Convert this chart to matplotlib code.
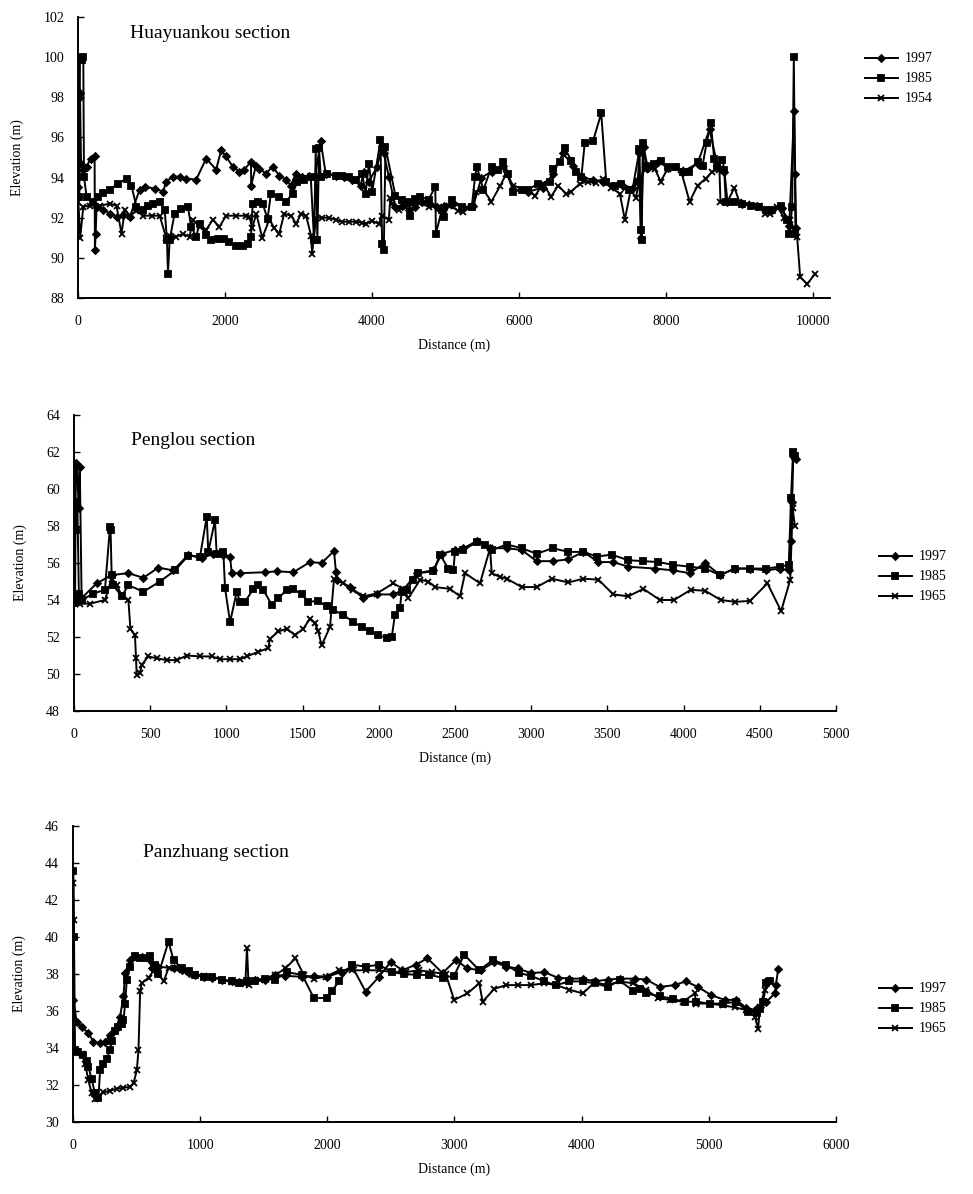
import matplotlib
matplotlib.use("Agg")
import matplotlib.pyplot as plt

plt.rcParams['font.family'] = ['Liberation Serif', 'DejaVu Serif']

# ---- Huayuankou section: (distance m, elevation m)
hy_1997 = [(5, 93.55), (14, 97.95), (27, 98.2), (41, 94.7), (72, 94.4), (117, 94.55), (172, 94.95), (226, 95.05),
           (230, 90.4), (240, 91.2), (253, 92.55), (343, 92.4), (434, 92.2), (524, 92.05), (614, 92.15), (705, 92.05),
           (840, 93.4), (908, 93.55), (1043, 93.45), (1156, 93.3), (1201, 93.8), (1292, 94.05), (1382, 94.05),
           (1473, 93.95), (1608, 93.9), (1744, 94.95), (1879, 94.4), (1947, 95.35), (2015, 95.05), (2105, 94.55),
           (2195, 94.3), (2263, 94.4), (2353, 94.8), (2356, 93.6), (2421, 94.6), (2466, 94.45), (2556, 94.2),
           (2647, 94.55), (2737, 94.1), (2828, 93.9), (2895, 93.6), (2963, 94.2), (3053, 94.05), (3144, 94.1),
           (3225, 94.05), (3302, 95.8), (3370, 94.2), (3505, 94.1), (3618, 94.05), (3731, 93.9), (3844, 93.6),
           (3889, 94.3), (3957, 93.8), (4069, 94.55), (4137, 95.55), (4160, 95.2), (4228, 94.05), (4318, 92.55),
           (4408, 92.6), (4499, 92.4), (4589, 92.55), (4679, 92.8), (4792, 92.7), (4882, 92.55), (4973, 92.6),
           (5108, 92.7), (5244, 92.5), (5379, 92.6), (5488, 94.0), (5628, 94.3), (5786, 94.6), (5921, 93.4),
           (6125, 93.3), (6328, 93.5), (6463, 94.2), (6599, 95.2), (6734, 94.6), (6870, 94.0), (7005, 93.9),
           (7141, 93.8), (7277, 93.6), (7412, 93.6), (7548, 93.5), (7629, 95.2), (7656, 91.0), (7696, 95.5),
           (7750, 94.5), (7886, 94.8), (8022, 94.5), (8225, 94.3), (8428, 94.7), (8591, 96.4), (8699, 94.6),
           (8794, 94.3), (8835, 92.8), (9038, 92.7), (9241, 92.6), (9444, 92.4), (9580, 92.5), (9675, 91.6),
           (9743, 97.3), (9756, 94.2), (9770, 91.5)]
hy_1985 = [(18, 93.05), (27, 99.95), (50, 99.85), (72, 100.0), (81, 94.05), (117, 93.05), (208, 92.8), (275, 93.05),
           (343, 93.25), (434, 93.4), (546, 93.7), (660, 93.95), (727, 93.6), (795, 92.55), (885, 92.4), (953, 92.6),
           (1021, 92.7), (1111, 92.8), (1179, 92.4), (1210, 90.9), (1224, 89.2), (1247, 90.9), (1314, 92.2),
           (1405, 92.45), (1495, 92.55), (1540, 91.55), (1608, 91.05), (1653, 91.7), (1744, 91.15), (1811, 90.9),
           (1901, 90.95), (1992, 90.95), (2060, 90.8), (2150, 90.6), (2240, 90.6), (2308, 90.7), (2353, 91.05),
           (2376, 92.7), (2443, 92.8), (2511, 92.7), (2579, 91.95), (2624, 93.2), (2737, 93.05), (2828, 92.8),
           (2918, 93.2), (2986, 93.8), (3076, 93.9), (3166, 94.05), (3211, 90.9), (3234, 95.4), (3256, 90.9),
           (3279, 95.45), (3302, 94.05), (3392, 94.2), (3505, 94.1), (3595, 94.1), (3686, 94.05), (3776, 93.9),
           (3866, 94.2), (3912, 93.2), (3957, 94.7), (4002, 93.3), (4115, 95.85), (4137, 90.7), (4160, 90.4),
           (4183, 95.5), (4318, 93.1), (4408, 92.9), (4499, 92.8), (4521, 92.1), (4589, 92.95), (4657, 93.05),
           (4770, 92.9), (4860, 93.55), (4869, 91.2), (4950, 92.4), (4973, 92.05), (5086, 92.9), (5221, 92.55),
           (5357, 92.55), (5402, 94.05), (5425, 94.55), (5515, 93.4), (5628, 94.55), (5718, 94.4), (5786, 94.8),
           (5854, 94.2), (5921, 93.3), (6034, 93.4), (6125, 93.4), (6260, 93.7), (6418, 93.8), (6463, 94.45),
           (6554, 94.8), (6622, 95.45), (6712, 94.85), (6780, 94.3), (6848, 94.05), (6893, 95.7), (7005, 95.8),
           (7118, 97.2), (7186, 93.8), (7299, 93.6), (7389, 93.7), (7502, 93.4), (7615, 93.8), (7638, 95.4),
           (7660, 91.4), (7669, 90.9), (7683, 95.7), (7728, 94.6), (7841, 94.7), (7931, 94.85), (8022, 94.55),
           (8134, 94.55), (8225, 94.3), (8315, 94.3), (8428, 94.8), (8496, 94.6), (8550, 95.7), (8609, 96.7),
           (8654, 94.95), (8699, 94.55), (8767, 94.9), (8790, 94.4), (8812, 92.8), (8925, 92.8), (9038, 92.7),
           (9150, 92.6), (9264, 92.55), (9354, 92.4), (9444, 92.4), (9557, 92.6), (9648, 91.9), (9679, 91.2),
           (9715, 92.55), (9738, 100.0), (9760, 91.2)]
hy_1954 = [(5, 92.8), (30, 91.0), (72, 92.55), (163, 92.6), (298, 92.6), (434, 92.7), (524, 92.6), (592, 91.2),
           (637, 92.4), (705, 92.1), (795, 92.35), (885, 92.1), (1000, 92.1), (1111, 92.1), (1200, 91.0),
           (1247, 91.1), (1337, 91.05), (1427, 91.2), (1518, 91.05), (1563, 91.9), (1653, 91.55), (1744, 91.4),
           (1834, 91.9), (1924, 91.55), (2015, 92.1), (2150, 92.1), (2290, 92.1), (2331, 92.05), (2371, 91.5),
           (2425, 92.2), (2507, 91.0), (2602, 91.9), (2669, 91.5), (2737, 91.2), (2805, 92.2), (2900, 92.1),
           (2967, 91.7), (3035, 92.2), (3103, 92.1), (3171, 91.1), (3184, 90.2), (3238, 92.0), (3320, 92.0),
           (3415, 92.0), (3509, 91.9), (3591, 91.8), (3686, 91.8), (3780, 91.8), (3862, 91.75), (3916, 91.7),
           (3997, 91.85), (4092, 91.7), (4133, 92.1), (4228, 91.9), (4250, 93.0), (4268, 92.7), (4363, 92.4),
           (4458, 92.55), (4539, 92.7), (4634, 92.75), (4770, 92.55), (4905, 92.55), (5041, 92.6), (5176, 92.35),
           (5244, 92.3), (5352, 92.55), (5420, 93.3), (5515, 93.4), (5623, 92.8), (5745, 93.6), (5827, 94.2),
           (5921, 93.6), (6084, 93.4), (6219, 93.1), (6328, 93.7), (6436, 93.05), (6531, 93.6), (6640, 93.2),
           (6707, 93.3), (6829, 93.7), (6938, 93.8), (7046, 93.75), (7141, 93.95), (7250, 93.5), (7371, 93.2),
           (7439, 91.9), (7520, 93.4), (7588, 93.0), (7642, 93.9), (7710, 94.4), (7778, 94.55), (7845, 94.45),
           (7927, 93.8), (8022, 94.45), (8116, 94.55), (8198, 94.4), (8320, 92.8), (8428, 93.6), (8537, 93.95),
           (8631, 94.3), (8726, 94.4), (8740, 92.8), (8835, 92.8), (8930, 93.5), (8997, 92.8), (9106, 92.7),
           (9268, 92.6), (9350, 92.2), (9417, 92.2), (9512, 92.55), (9607, 92.0), (9689, 91.9), (9743, 91.4),
           (9783, 91.05), (9824, 89.05), (9919, 88.7), (10027, 89.2)]

# ---- Penglou section
pl_1997 = [(7, 53.9), (12, 61.4), (20, 61.3), (30, 59.0), (38, 61.2), (50, 54.1), (149, 54.9), (247, 55.35),
           (357, 55.45), (455, 55.2), (553, 55.75), (652, 55.6), (750, 56.45), (838, 56.25), (914, 56.5),
           (980, 56.45), (1024, 56.35), (1035, 55.45), (1089, 55.45), (1253, 55.5), (1330, 55.55), (1439, 55.5),
           (1549, 56.05), (1625, 56.0), (1706, 56.65), (1719, 55.5), (1724, 55.1), (1811, 54.7), (1899, 54.1),
           (1986, 54.3), (2095, 54.3), (2161, 54.55), (2249, 55.45), (2358, 55.6), (2413, 56.5), (2500, 56.7),
           (2555, 56.8), (2647, 57.2), (2730, 56.8), (2840, 56.8), (2938, 56.7), (3036, 56.1), (3145, 56.1),
           (3244, 56.2), (3342, 56.6), (3441, 56.05), (3539, 56.05), (3637, 55.8), (3812, 55.7), (3933, 55.6),
           (4042, 55.45), (4141, 56.0), (4239, 55.35), (4338, 55.7), (4436, 55.7), (4540, 55.6), (4630, 55.7),
           (4690, 55.6), (4705, 57.2), (4712, 59.3), (4720, 61.8), (4735, 61.6)]
pl_1985 = [(5, 54.0), (8, 59.2), (14, 57.8), (22, 59.3), (32, 54.3), (50, 54.0), (127, 54.35), (203, 54.55),
           (236, 57.95), (240, 57.8), (247, 55.35), (258, 54.8), (313, 54.2), (357, 54.8), (455, 54.45),
           (564, 55.0), (663, 55.6), (750, 56.4), (827, 56.35), (871, 58.5), (881, 56.6), (925, 58.3), (936, 56.5),
           (980, 56.6), (991, 54.65), (1024, 52.8), (1068, 54.45), (1089, 53.9), (1122, 53.9), (1177, 54.6),
           (1210, 54.8), (1242, 54.55), (1297, 53.75), (1341, 54.1), (1396, 54.55), (1439, 54.6), (1494, 54.3),
           (1538, 53.9), (1603, 53.95), (1658, 53.65), (1702, 53.45), (1767, 53.2), (1833, 52.8), (1888, 52.55),
           (1942, 52.3), (1997, 52.1), (2052, 51.95), (2085, 52.0), (2106, 53.2), (2139, 53.55), (2150, 54.45),
           (2183, 54.55), (2227, 55.1), (2260, 55.45), (2358, 55.55), (2402, 56.45), (2456, 55.7), (2489, 55.6),
           (2500, 56.6), (2555, 56.7), (2647, 57.15), (2697, 57.0), (2741, 56.7), (2840, 57.0), (2938, 56.8),
           (3036, 56.5), (3141, 56.8), (3244, 56.6), (3342, 56.6), (3430, 56.35), (3528, 56.45), (3637, 56.15),
           (3736, 56.1), (3834, 56.05), (3933, 55.9), (4042, 55.8), (4141, 55.7), (4239, 55.35), (4338, 55.7),
           (4436, 55.7), (4540, 55.7), (4630, 55.8), (4690, 55.9), (4705, 59.5), (4718, 62.0), (4732, 61.8)]
pl_1965 = [(7, 53.8), (39, 53.8), (105, 53.8), (203, 54.0), (247, 55.15), (280, 54.8), (313, 54.25), (357, 54.0),
           (370, 52.45), (400, 52.1), (407, 50.85), (411, 49.95), (433, 50.05), (444, 50.5), (488, 50.95),
           (542, 50.85), (608, 50.75), (674, 50.75), (740, 51.0), (827, 50.95), (904, 50.95), (958, 50.8),
           (1024, 50.8), (1089, 50.8), (1133, 50.95), (1210, 51.2), (1275, 51.4), (1286, 51.9), (1341, 52.3),
           (1396, 52.45), (1450, 52.1), (1505, 52.45), (1549, 53.0), (1581, 52.75), (1603, 52.3), (1625, 51.55),
           (1680, 52.55), (1706, 55.15), (1767, 54.9), (1833, 54.55), (1899, 54.2), (1986, 54.35), (2095, 54.9),
           (2161, 54.6), (2194, 54.1), (2271, 55.1), (2325, 55.0), (2369, 54.7), (2467, 54.6), (2533, 54.2),
           (2566, 55.45), (2664, 54.9), (2730, 56.8), (2741, 55.45), (2795, 55.25), (2840, 55.15), (2938, 54.7),
           (3036, 54.7), (3135, 55.15), (3244, 54.95), (3342, 55.15), (3441, 55.1), (3539, 54.3), (3637, 54.2),
           (3736, 54.6), (3845, 54.0), (3937, 54.0), (4047, 54.55), (4141, 54.5), (4244, 54.0), (4338, 53.9),
           (4436, 53.95), (4550, 54.9), (4640, 53.4), (4700, 55.1), (4715, 59.0), (4730, 58.0)]

# ---- Panzhuang section
pz_1997 = [(3, 36.6), (29, 35.4), (68, 35.15), (121, 34.8), (160, 34.35), (213, 34.25), (252, 34.35), (292, 34.7),
           (331, 34.95), (370, 35.7), (397, 36.8), (410, 38.05), (449, 38.75), (489, 39.0), (541, 38.9),
           (594, 38.8), (620, 38.35), (646, 38.2), (672, 38.4), (791, 38.3), (856, 38.2), (909, 38.05),
           (961, 37.95), (1027, 37.85), (1093, 37.8), (1172, 37.7), (1250, 37.6), (1303, 37.55), (1369, 37.6),
           (1434, 37.65), (1513, 37.7), (1592, 37.95), (1670, 37.9), (1802, 37.85), (1894, 37.9), (2000, 37.85),
           (2104, 38.1), (2196, 38.4), (2301, 37.05), (2406, 37.85), (2498, 38.65), (2590, 38.2), (2695, 38.5),
           (2787, 38.85), (2906, 38.05), (3011, 38.75), (3102, 38.3), (3208, 38.2), (3313, 38.65), (3405, 38.4),
           (3497, 38.3), (3602, 38.05), (3707, 38.1), (3812, 37.8), (3904, 37.75), (4009, 37.75), (4101, 37.6),
           (4206, 37.7), (4298, 37.75), (4416, 37.75), (4508, 37.7), (4613, 37.3), (4731, 37.4), (4818, 37.6),
           (4915, 37.3), (5020, 36.85), (5125, 36.6), (5217, 36.6), (5296, 36.15), (5361, 36.05), (5401, 36.2),
           (5453, 36.5), (5519, 36.95), (5527, 37.4), (5545, 38.25)]
pz_1985 = [(3, 43.55), (8, 40.0), (16, 33.9), (42, 33.8), (81, 33.6), (108, 33.3), (121, 33.0), (147, 32.3),
           (173, 31.55), (200, 31.3), (213, 32.8), (239, 33.15), (265, 33.4), (292, 33.9), (305, 34.4), (331, 34.9),
           (357, 35.15), (384, 35.3), (397, 35.5), (410, 36.4), (423, 37.7), (449, 38.4), (489, 38.95), (528, 38.85),
           (567, 38.85), (607, 38.95), (646, 38.5), (672, 38.0), (751, 39.75), (791, 38.75), (856, 38.3),
           (909, 38.15), (961, 37.95), (1027, 37.85), (1093, 37.85), (1172, 37.7), (1250, 37.6), (1303, 37.5),
           (1369, 37.6), (1434, 37.6), (1513, 37.75), (1591, 37.7), (1683, 38.1), (1802, 37.95), (1894, 36.7),
           (2000, 36.7), (2038, 37.1), (2091, 37.6), (2196, 38.5), (2301, 38.4), (2406, 38.5), (2511, 38.1),
           (2603, 38.0), (2708, 37.95), (2800, 37.95), (2906, 37.8), (2997, 37.9), (3076, 39.05), (3195, 38.2),
           (3300, 38.75), (3405, 38.5), (3510, 38.05), (3602, 37.9), (3707, 37.6), (3799, 37.4), (3904, 37.6),
           (4009, 37.6), (4101, 37.5), (4206, 37.3), (4298, 37.65), (4403, 37.1), (4456, 37.2), (4508, 36.95),
           (4613, 36.8), (4718, 36.65), (4810, 36.5), (4902, 36.5), (5007, 36.4), (5112, 36.4), (5217, 36.5),
           (5309, 35.95), (5375, 35.9), (5401, 36.1), (5427, 36.5), (5453, 37.5), (5480, 37.6)]
pz_1965 = [(2, 42.9), (5, 40.9), (10, 33.9), (29, 33.8), (68, 33.7), (95, 33.15), (121, 32.25), (147, 31.55),
           (173, 31.25), (200, 31.35), (239, 31.6), (292, 31.7), (344, 31.8), (397, 31.85), (449, 31.9), (476, 32.1),
           (502, 32.8), (515, 33.9), (528, 37.1), (541, 37.5), (594, 37.8), (646, 38.3), (712, 37.6), (751, 38.3),
           (804, 38.35), (856, 38.2), (909, 38.1), (961, 38.0), (1027, 37.9), (1093, 37.85), (1172, 37.7),
           (1250, 37.55), (1303, 37.5), (1355, 37.45), (1368, 39.4), (1381, 37.4), (1473, 37.7), (1592, 37.95),
           (1670, 38.3), (1749, 38.85), (1815, 37.95), (1894, 37.75), (1986, 37.85), (2091, 38.2), (2196, 38.2),
           (2301, 38.2), (2406, 38.2), (2511, 38.1), (2616, 38.1), (2721, 38.2), (2826, 38.1), (2931, 38.0),
           (2997, 36.6), (3102, 36.95), (3195, 37.5), (3221, 36.5), (3313, 37.2), (3405, 37.4), (3497, 37.4),
           (3602, 37.4), (3707, 37.5), (3799, 37.4), (3904, 37.15), (4009, 36.95), (4101, 37.55), (4206, 37.4),
           (4298, 37.6), (4403, 37.5), (4508, 37.15), (4600, 36.7), (4692, 36.6), (4797, 36.5), (4889, 36.95),
           (4902, 36.4), (5007, 36.4), (5112, 36.3), (5204, 36.2), (5296, 36.05), (5361, 35.7), (5388, 35.05),
           (5401, 36.2), (5440, 37.15), (5466, 37.6)]

W, H = 973, 1194

panels = [
    dict(title="Huayuankou section", series=[("1997", hy_1997), ("1985", hy_1985), ("1954", hy_1954)],
         box=(78, 17, 830, 298), xlim=(0, 10230), xticks=range(0, 10001, 2000),
         ylim=(88, 102), yticks=range(88, 103, 2), title_pos=(0.069, 0.943), leg=(852, 40)),
    dict(title="Penglou section", series=[("1997", pl_1997), ("1985", pl_1985), ("1965", pl_1965)],
         box=(74, 415, 836, 711), xlim=(0, 5000), xticks=range(0, 5001, 500),
         ylim=(48, 64), yticks=range(48, 65, 2), title_pos=(0.075, 0.915), leg=(866, 538)),
    dict(title="Panzhuang section", series=[("1997", pz_1997), ("1985", pz_1985), ("1965", pz_1965)],
         box=(73, 826, 836, 1122), xlim=(0, 6000), xticks=range(0, 6001, 1000),
         ylim=(30, 46), yticks=range(30, 47, 2), title_pos=(0.092, 0.91), leg=(866, 970)),
]
markers = {"1997": ("D", 3.5), "1985": ("s", 5.0), "1954": ("x", 5.0), "1965": ("x", 5.0)}

fig = plt.figure(figsize=(W / 100, H / 100), dpi=100)

for p in panels:
    x0, y0, x1, y1 = p["box"]
    ax = fig.add_axes([x0 / W, 1 - y1 / H, (x1 - x0) / W, (y1 - y0) / H])
    for name, pts in p["series"]:
        d = [a for a, b in pts]
        v = [b for a, b in pts]
        m, ms = markers[name]
        ax.plot(d, v, color="black", lw=1.4, marker=m, ms=ms, mew=1.3, label=name)
    ax.set_xlim(*p["xlim"])
    ax.set_ylim(*p["ylim"])
    ax.set_xticks(list(p["xticks"]))
    ax.set_yticks(list(p["yticks"]))
    ax.spines["top"].set_visible(False)
    ax.spines["right"].set_visible(False)
    ax.spines["left"].set_linewidth(1.4)
    ax.spines["bottom"].set_linewidth(1.4)
    ax.tick_params(direction="in", length=4, width=1, labelsize=10)
    ax.tick_params(axis="x", pad=12)
    ax.tick_params(axis="y", pad=10)
    ax.set_xlabel("Distance (m)", fontsize=10, labelpad=8)
    ax.set_ylabel("Elevation (m)", fontsize=10, labelpad=14)
    ax.text(p["title_pos"][0], p["title_pos"][1], p["title"], transform=ax.transAxes,
            fontsize=14, va="center", ha="left")
    lx, ly = p["leg"]
    ax.legend(loc="upper left", bbox_to_anchor=(lx / W, 1 - ly / H), bbox_transform=fig.transFigure,
              frameon=False, fontsize=10, handlelength=2.4, handletextpad=0.5, labelspacing=0.5)

fig.savefig("out.png", dpi=100)
